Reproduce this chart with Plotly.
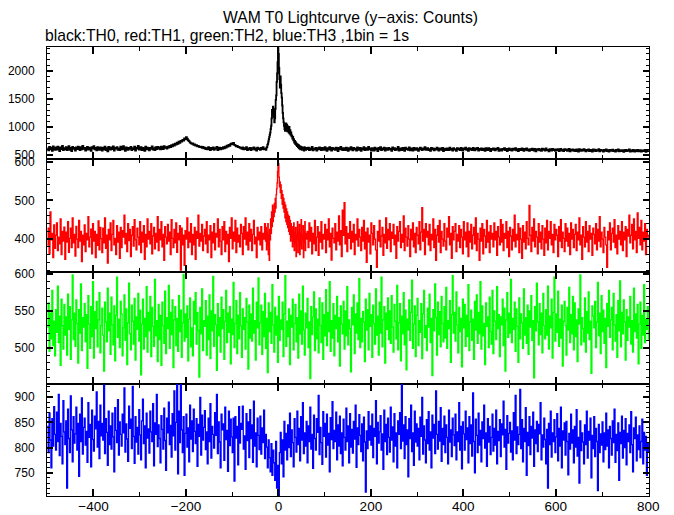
import numpy as np
import plotly.graph_objects as go
from plotly.subplots import make_subplots

# ---------------- data (counts per bin) ----------------
# coarse grid: 2 s steps; burst window (-28..60 s): 1 s steps
black_pre = [  # t = -500 .. -30 (step 2)
    618, 582, 645, 601, 630, 575, 652, 608, 590, 637,
    596, 648, 612, 570, 635, 605, 660, 588, 622, 599,
    640, 585, 618, 655, 592, 628, 568, 642, 610, 625,
    580, 633, 603, 650, 615, 586, 640, 598, 662, 607,
    625, 577, 612, 645, 595, 630, 604, 572, 638, 617,
    655, 598, 624, 583, 641, 609, 590, 636, 612, 578,
    630, 602, 649, 588, 620, 565, 644, 611, 597, 634,
    606, 652, 580, 627, 613, 640, 592, 618, 585, 646,
    598, 624, 656, 601, 575, 637, 615, 590, 628, 609,
    642, 585, 620, 603, 650, 579, 631, 612, 660, 594,
    617, 640, 588, 625, 606, 573, 647, 599, 632, 614,
    583, 628, 610, 652, 596, 621, 589, 638, 604, 645,
    612, 635, 598, 648, 620, 606, 655, 628, 640, 615,
    650, 632, 662, 641, 675, 655, 690, 668, 702, 685,
    720, 698, 735, 715, 752, 740, 770, 758, 795, 780,
    815, 790, 762, 748, 725, 712, 698, 705, 682, 690,
    668, 675, 652, 660, 645, 638, 650, 625, 642, 618,
    630, 605, 622, 598, 640, 612, 588, 628, 603, 635,
    592, 620, 608, 645, 585, 615, 630, 600, 625, 610,
    640, 618, 650, 632, 665, 648, 680, 662, 695, 705,
    690, 715, 678, 672, 655, 660, 638, 645, 625, 632,
    610, 635, 598, 622, 605, 640, 588, 618, 600, 628,
    585, 622, 608, 637, 595, 615, 580, 630, 603, 618,
    590, 625, 605, 640, 598, 612,
]
black_burst = [  # t = -28 .. 60 (step 1)
    610, 590, 630, 640, 680, 700, 740, 780, 820, 860,
    900, 960, 1020, 1150, 1300, 1250, 1360, 1280, 1180, 1080,
    1150, 1320, 1480, 1560, 1800, 1950, 2150, 2400, 2300, 2050,
    1850, 1700, 1900, 1750, 1600, 1520, 1380, 1250, 1150, 1080,
    1020, 960, 930, 1000, 1060, 980, 1040, 920, 1010, 960,
    900, 1000, 880, 940, 860, 900, 830, 850, 790, 820,
    760, 780, 720, 750, 700, 730, 680, 700, 660, 690,
    640, 680, 620, 660, 630, 600, 650, 610, 640, 590,
    630, 600, 620, 580, 640, 600, 615, 590, 625,
]
black_post = [  # t = 62 .. 800 (step 2)
    605, 630, 588, 618, 595, 642, 582, 612, 600, 625,
    578, 620, 598, 635, 606, 585, 628, 610, 592, 640,
    603, 575, 622, 596, 638, 612, 580, 625, 600, 618,
    590, 632, 605, 570, 628, 598, 645, 608, 585, 620,
    612, 586, 630, 602, 575, 622, 595, 640, 605, 582,
    626, 598, 612, 580, 635, 606, 590, 628, 572, 615,
    600, 638, 585, 620, 608, 592, 645, 598, 615, 578,
    622, 603, 580, 630, 595, 612, 570, 625, 602, 640,
    588, 615, 600, 632, 578, 620, 606, 590, 628, 598,
    610, 575, 635, 602, 620, 585, 612, 595, 642, 580,
    618, 600, 588, 625, 605, 572, 630, 598, 612, 590,
    635, 582, 615, 602, 580, 625, 608, 590, 620, 596,
    575, 612, 630, 598, 585, 618, 602, 640, 590, 608,
    620, 588, 605, 572, 628, 600, 615, 582, 610, 595,
    632, 598, 580, 615, 605, 590, 625, 570, 612, 600,
    588, 618, 602, 585, 630, 595, 610, 578, 620, 605,
    596, 575, 622, 600, 612, 585, 628, 598, 580, 615,
    605, 630, 590, 612, 572, 620, 595, 608, 585, 625,
    598, 582, 615, 600, 625, 578, 610, 592, 618, 588,
    612, 595, 575, 620, 600, 585, 622, 605, 570, 610,
    590, 618, 598, 582, 612, 600, 625, 575, 605, 592,
    580, 608, 595, 620, 585, 610, 568, 600, 615, 588,
    605, 578, 612, 592, 598, 620, 582, 605, 570, 610,
    595, 585, 615, 600, 575, 608, 590, 618, 582, 598,
    572, 605, 588, 612, 595, 580, 610, 565, 600, 590,
    608, 582, 598, 575, 612, 590, 602, 578, 615, 585,
    590, 565, 605, 595, 580, 610, 588, 600, 572, 598,
    585, 602, 570, 595, 610, 580, 592, 568, 605, 588,
    598, 575, 590, 608, 565, 595, 582, 600, 575, 592,
    570, 598, 585, 560, 602, 588, 575, 595, 580, 605,
    588, 565, 592, 578, 600, 570, 590, 582, 560, 598,
    575, 595, 568, 588, 580, 602, 565, 590, 578, 585,
    562, 590, 575, 598, 570, 585, 558, 592, 580, 572,
    595, 568, 582, 560, 590, 575, 598, 565, 585, 578,
    570, 588, 555, 580, 592, 568, 585, 572, 598, 562,
    580, 565, 590, 575, 558, 585, 570, 592, 565, 578,
    588, 560, 575, 582, 568, 590, 555, 578, 570, 585,
]

red_pre = [  # t = -500 .. -30 (step 2)
    385, 428, 362, 470, 398, 415, 352, 437, 376, 410,
    442, 370, 405, 388, 452, 360, 420, 395, 431, 348,
    418, 392, 445, 366, 402, 428, 378, 455, 390, 412,
    356, 433, 400, 378, 448, 395, 420, 342, 410, 385,
    437, 368, 415, 398, 458, 380, 405, 426, 362, 440,
    395, 420, 352, 412, 384, 447, 372, 430, 401, 365,
    428, 390, 455, 376, 410, 338, 425, 398, 442, 370,
    412, 448, 385, 402, 360, 435, 392, 418, 350, 430,
    378, 422, 405, 462, 388, 415, 368, 440, 396, 425,
    355, 410, 432, 382, 450, 398, 372, 428, 405, 385,
    445, 365, 418, 392, 435, 348, 412, 380, 452, 400,
    420, 388, 440, 362, 408, 430, 375, 415, 392, 458,
    370, 425, 398, 445, 380, 412, 345, 432, 405, 388,
    438, 395, 418, 360, 450, 402, 378, 425, 390, 442,
    366, 415, 398, 435, 320, 428, 385, 410, 332, 422,
    400, 455, 378, 418, 392, 440, 360, 412, 385, 430,
    348, 420, 402, 462, 382, 415, 395, 438, 370, 408,
    425, 388, 445, 365, 410, 398, 435, 352, 418, 390,
    440, 372, 415, 405, 452, 380, 425, 395, 360, 432,
    398, 445, 368, 420, 388, 412, 342, 430, 402, 455,
    375, 418, 395, 448, 365, 428, 392, 410, 380, 438,
    415, 360, 432, 400, 455, 385, 418, 372, 440, 395,
    425, 370, 412, 448, 388, 405, 352, 430, 398, 418,
    385, 432, 372, 415, 400, 440,
]
red_burst = [  # t = -28 .. 60 (step 1)
    395, 430, 372, 418, 385, 440, 360, 410, 345, 425,
    398, 452, 415, 470, 432, 488, 445, 475, 458, 492,
    470, 505, 480, 515, 530, 545, 575, 607, 595, 560,
    535, 548, 520, 540, 505, 525, 490, 515, 480, 505,
    470, 495, 455, 488, 445, 478, 438, 470, 430, 462,
    420, 458, 412, 448, 395, 440, 405, 432, 380, 425,
    395, 442, 370, 418, 388, 430, 355, 412, 400, 445,
    365, 420, 392, 438, 360, 415, 385, 450, 375, 410,
    398, 435, 352, 420, 390, 445, 370, 415, 400,
]
red_post = [  # t = 62 .. 800 (step 2)
    420, 378, 442, 395, 430, 362, 415, 388, 448, 370,
    405, 432, 358, 418, 392, 445, 375, 412, 400, 438,
    365, 425, 398, 452, 380, 415, 346, 428, 402, 390,
    440, 372, 418, 395, 460, 385, 422, 355, 475, 410,
    494, 388, 432, 368, 415, 402, 445, 375, 420, 392,
    438, 360, 412, 398, 452, 382, 425, 405, 370, 430,
    395, 448, 375, 418, 340, 428, 392, 410, 362, 442,
    415, 385, 435, 400, 372, 327, 420, 395, 448, 380,
    408, 430, 358, 412, 390, 455, 376, 425, 398, 440,
    368, 418, 402, 438, 385, 410, 350, 432, 395, 420,
    445, 378, 412, 392, 460, 370, 428, 405, 382, 435,
    400, 355, 425, 398, 442, 380, 415, 365, 430, 410,
    388, 445, 372, 418, 481, 395, 425, 360, 440, 405,
    420, 385, 438, 370, 412, 398, 452, 378, 425, 345,
    410, 435, 392, 448, 365, 420, 400, 382, 440, 395,
    372, 428, 405, 458, 385, 415, 350, 432, 398, 420,
    440, 368, 412, 395, 435, 378, 425, 405, 362, 445,
    398, 418, 380, 442, 355, 420, 392, 438, 375, 410,
    430, 388, 455, 370, 415, 400, 345, 428, 395, 440,
    362, 425, 408, 378, 448, 392, 418, 365, 435, 400,
    415, 380, 442, 398, 420, 358, 432, 405, 385, 450,
    392, 438, 370, 415, 402, 445, 378, 420, 355, 430,
    408, 372, 425, 395, 462, 380, 412, 398, 440, 365,
    428, 400, 350, 435, 392, 418, 375, 445, 402, 385,
    487, 410, 368, 430, 395, 452, 380, 420, 405, 362,
    440, 392, 418, 375, 435, 400, 358, 428, 390, 448,
    372, 420, 402, 445, 385, 412, 365, 438, 398, 425,
    410, 355, 432, 395, 450, 378, 418, 402, 368, 440,
    395, 428, 382, 415, 360, 442, 400, 425, 378, 412,
    438, 370, 418, 398, 455, 385, 410, 348, 432, 405,
    380, 445, 392, 420, 368, 435, 400, 415, 358, 428,
    412, 388, 440, 372, 425, 395, 458, 380, 418, 400,
    365, 430, 405, 385, 327, 420, 398, 442, 372, 415,
    428, 392, 450, 378, 410, 362, 435, 400, 420, 385,
    445, 370, 418, 398, 432, 355, 425, 408, 462, 390,
    410, 438, 375, 452, 398, 420, 365, 468, 402, 430,
    385, 448, 372, 418, 395, 440, 360, 425, 405, 412,
]

green = [  # t = -500 .. 800 (step 2)
    528, 561, 495, 547, 512, 578, 503, 536, 489, 552,
    521, 584, 507, 543, 476, 566, 530, 498, 559, 517,
    542, 490, 573, 525, 556, 484, 538, 599, 511, 547,
    502, 565, 533, 479, 552, 520, 587, 496, 541, 528,
    560, 508, 545, 472, 571, 532, 499, 556, 515, 590,
    486, 549, 526, 563, 501, 538, 575, 493, 530, 554,
    517, 468, 562, 535, 508, 581, 523, 547, 491, 569,
    531, 504, 557, 482, 544, 596, 514, 539, 500, 563,
    546, 489, 527, 572, 510, 553, 477, 534, 588, 519,
    497, 558, 536, 505, 567, 483, 542, 525, 574, 509,
    551, 463, 532, 566, 498, 540, 515, 583, 494, 548,
    523, 570, 488, 555, 529, 502, 593, 516, 537, 481,
    559, 511, 544, 476, 562, 530, 506, 577, 492, 541,
    526, 585, 499, 548, 518, 565, 473, 538, 556, 503,
    540, 495, 571, 522, 551, 487, 534, 600, 509, 546,
    514, 557, 482, 539, 568, 501, 527, 489, 563, 532,
    575, 505, 548, 524, 460, 555, 519, 580, 496, 537,
    529, 564, 490, 543, 511, 572, 485, 550, 523, 597,
    502, 545, 531, 469, 560, 516, 541, 494, 569, 526,
    552, 484, 536, 578, 507, 547, 521, 556, 478, 539,
    518, 589, 500, 533, 564, 492, 544, 512, 575, 530,
    487, 553, 525, 541, 498, 567, 535, 471, 558, 513,
    546, 509, 581, 520, 537, 483, 562, 527, 595, 504,
    534, 558, 491, 549, 515, 574, 499, 540, 466, 561,
    522, 548, 506, 586, 531, 494, 555, 517, 543, 480,
    570, 510, 538, 525, 562, 488, 546, 598, 502, 536,
    515, 553, 477, 544, 528, 566, 497, 533, 559, 508,
    541, 486, 573, 519, 550, 505, 584, 524, 490, 547,
    527, 567, 500, 535, 458, 556, 518, 542, 576, 496,
    553, 512, 539, 493, 568, 530, 507, 561, 484, 545,
    516, 579, 503, 548, 522, 590, 495, 537, 513, 560,
    489, 544, 526, 570, 508, 541, 475, 557, 532, 519,
    563, 498, 550, 516, 583, 504, 538, 526, 467, 555,
    531, 572, 492, 546, 520, 561, 511, 594, 500, 540,
    508, 549, 535, 481, 566, 524, 552, 497, 574, 529,
    545, 487, 558, 533, 505, 580, 517, 543, 490, 562,
    520, 596, 501, 538, 556, 479, 547, 525, 568, 511,
    550, 506, 571, 528, 494, 559, 536, 512, 585, 497,
    534, 560, 482, 543, 519, 575, 504, 551, 470, 539,
    524, 565, 510, 548, 592, 499, 532, 557, 488, 544,
    567, 503, 537, 521, 560, 485, 546, 578, 514, 530,
    496, 554, 528, 573, 507, 540, 462, 552, 523, 587,
    541, 490, 562, 518, 549, 501, 570, 533, 508, 556,
    513, 582, 499, 537, 526, 564, 480, 545, 598, 520,
    548, 509, 576, 531, 493, 555, 522, 540, 474, 566,
    527, 559, 502, 544, 515, 586, 496, 535, 551, 510,
    539, 484, 563, 524, 572, 506, 548, 519, 590, 498,
    557, 516, 533, 477, 561, 529, 542, 500, 569, 522,
    505, 578, 492, 550, 536, 511, 583, 526, 545, 488,
    542, 531, 566, 503, 554, 468, 538, 575, 514, 547,
    520, 593, 507, 540, 525, 562, 495, 553, 529, 480,
    568, 512, 546, 534, 499, 580, 517, 541, 506, 558,
    491, 550, 528, 571, 510, 537, 459, 556, 523, 588,
    535, 504, 560, 518, 547, 493, 574, 530, 512, 552,
    517, 584, 498, 543, 527, 566, 486, 548, 596, 509,
    546, 521, 577, 502, 539, 513, 558, 475, 536, 563,
    530, 490, 555, 524, 582, 507, 545, 519, 570, 497,
    561, 515, 538, 481, 553, 532, 599, 504, 541, 526,
    508, 568, 494, 549, 520, 576, 511, 536, 465, 557,
    543, 527, 563, 500, 535, 589, 516, 547, 492, 571,
    522, 551, 506, 540, 473, 560, 529, 578, 514, 538,
    555, 497, 574, 531, 509, 545, 487, 564, 523, 591,
    501, 548, 519, 565, 535, 483, 552, 510, 542, 528,
    570, 505, 537, 494, 581, 522, 546, 513, 559, 478,
    532, 562, 499, 544, 517, 586, 507, 539, 525, 556,
    511,
]

blue = [  # t = -500 .. 800 (step 2)
    842, 790, 868, 815, 760, 857, 803, 881, 826, 795,
    870, 812, 905, 784, 848, 822, 768, 893, 831, 806,
    853, 720, 876, 818, 790, 902, 835, 772, 861, 809,
    827, 880, 795, 848, 743, 866, 812, 898, 787, 840,
    858, 805, 832, 771, 889, 820, 846, 762, 874, 816,
    793, 862, 837, 910, 801, 852, 778, 884, 823, 848,
    815, 924, 788, 857, 830, 765, 872, 806, 843, 797,
    868, 821, 752, 879, 834, 810, 895, 785, 851, 826,
    803, 866, 829, 918, 791, 847, 817, 773, 882, 838,
    856, 798, 921, 822, 769, 861, 811, 840, 787, 875,
    825, 776, 853, 896, 808, 843, 760, 868, 819, 837,
    789, 872, 831, 812, 887, 764, 849, 826, 905, 802,
    845, 818, 770, 863, 836, 797, 878, 814, 755, 858,
    829, 890, 806, 844, 781, 867, 823, 912, 795, 850,
    925, 748, 872, 810, 925, 835, 790, 861, 745, 828,
    866, 801, 839, 772, 884, 817, 853, 792, 876, 832,
    808, 857, 763, 846, 822, 899, 785, 864, 815, 840,
    873, 796, 831, 768, 858, 812, 887, 779, 842, 826,
    799, 869, 824, 905, 788, 851, 811, 760, 866, 835,
    847, 775, 880, 816, 834, 753, 872, 804, 856, 821,
    790, 858, 734, 861, 819, 842, 766, 881, 809, 848,
    836, 882, 797, 823, 757, 867, 814, 851, 780, 875,
    818, 845, 771, 892, 803, 829, 762, 858, 824, 796,
    862, 787, 839, 810, 874, 778, 826, 801, 760, 815,
    780, 752, 808, 745, 795, 770, 735, 812, 720, 765,
    705, 790, 830, 768, 815, 742, 852, 795, 828, 776,
    845, 800, 868, 782, 835, 810, 762, 857, 820, 791,
    872, 806, 838, 774, 861, 815, 889, 788, 829, 803,
    852, 770, 843, 812, 880, 797, 826, 759, 864, 818,
    795, 857, 830, 903, 786, 840, 810, 767, 871, 822,
    848, 781, 866, 805, 828, 752, 859, 816, 891, 798,
    834, 812, 870, 776, 845, 803, 862, 788, 829, 764,
    856, 820, 795, 878, 812, 843, 770, 867, 801, 836,
    789, 852, 817, 884, 761, 839, 806, 865, 824, 792,
    847, 774, 860, 811, 712, 833, 798, 871, 815, 843,
    805, 866, 780, 838, 822, 893, 768, 850, 809, 831,
    863, 795, 827, 757, 874, 812, 846, 786, 858, 820,
    791, 880, 815, 841, 772, 867, 803, 829, 760, 853,
    826, 869, 798, 925, 813, 845, 778, 861, 806, 835,
    742, 857, 818, 884, 792, 829, 765, 872, 811, 847,
    803, 838, 776, 860, 822, 899, 787, 843, 815, 770,
    855, 808, 871, 795, 831, 760, 864, 819, 846, 788,
    912, 826, 797, 852, 813, 879, 773, 838, 806, 862,
    790, 845, 820, 768, 874, 811, 835, 782, 858, 825,
    804, 866, 776, 831, 812, 889, 795, 842, 758, 851,
    827, 795, 872, 816, 839, 770, 861, 808, 845, 783,
    908, 812, 750, 856, 824, 790, 868, 805, 834, 772,
    851, 818, 884, 799, 829, 763, 857, 811, 842, 786,
    820, 866, 793, 838, 805, 874, 768, 832, 814, 855,
    782, 847, 825, 892, 801, 836, 757, 863, 809, 828,
    850, 791, 833, 776, 869, 815, 903, 788, 841, 806,
    826, 915, 798, 855, 772, 838, 812, 879, 745, 830,
    804, 861, 786, 842, 819, 870, 763, 835, 808, 852,
    792, 846, 827, 889, 776, 825, 801, 858, 816, 768,
    836, 720, 848, 806, 872, 781, 829, 812, 855, 790,
    821, 867, 774, 838, 803, 880, 760, 833, 815, 849,
    785, 852, 812, 746, 828, 797, 866, 809, 835, 770,
    842, 801, 875, 783, 820, 730, 853, 794, 829, 811,
    768, 845, 806, 872, 779, 832, 815, 858, 740, 824,
    798, 861, 782, 838, 812, 715, 846, 790, 827, 805,
    851, 772, 829, 796, 868, 803, 835, 760, 842, 818,
    785, 853, 810, 876, 771, 826, 794, 849, 735, 830,
    808, 862, 779, 834, 800, 857, 766, 828, 812, 845,
    790, 871, 806, 752, 839, 818, 860, 774, 825, 796,
    843, 780, 812, 856, 768, 830, 795, 822, 745, 808,
    790,
]

# time grids (seconds from T0)
T_START, COARSE, FINE_LO = -500, 2, -28


def time_axis(pre, burst, post):
    t_pre = FINE_LO - COARSE * np.arange(len(pre), 0, -1)
    t_burst = FINE_LO + np.arange(len(burst))
    t_post = t_burst[-1] + COARSE * np.arange(1, len(post) + 1)
    return np.concatenate([t_pre, t_burst, t_post])


t_black = time_axis(black_pre, black_burst, black_post)
y_black = np.array(black_pre + black_burst + black_post)
t_red = time_axis(red_pre, red_burst, red_post)
y_red = np.array(red_pre + red_burst + red_post)
t_full = T_START + COARSE * np.arange(len(green))

title_main = "WAM T0 Lightcurve (y\u2212axis: Counts)"
title_sub = "black:TH0, red:TH1, green:TH2, blue:TH3 ,1bin = 1s"

series = [
    (t_black, y_black, "#000000", [424, 2421], 500, 100, 1.8),
    (t_red, y_red, "#ff0000", [316.3, 606.3], 100, 20, 1.3),
    (t_full, np.array(green), "#00ff00", [450.9, 603.8], 50, 10, 1.3),
    (t_full, np.array(blue), "#0000ff", [704.3, 926.2], 50, 10, 1.3),
]

# ---------------- figure ----------------
# page body has an 8 px default margin, so the figure is 8 px smaller
W, H = 666, 507
ML, MR, MT, MB = 39, 25, 39, 19
PH = H - MT - MB
fig = make_subplots(rows=4, cols=1, shared_xaxes=True, vertical_spacing=0)

FONT = "Liberation Sans, Arial, Helvetica, sans-serif"
for i, (tx, ty, col, yr, dt, mdt, lw) in enumerate(series, start=1):
    fig.add_trace(go.Scatter(x=tx, y=ty, mode="lines", line=dict(color=col, width=lw, shape="hv"),
                             showlegend=False, hoverinfo="skip"), row=i, col=1)
    fig.update_yaxes(range=yr, dtick=dt, tick0=0, ticks="inside", ticklen=6, tickwidth=1.5,
                     tickcolor="black", mirror="allticks", showline=True, linecolor="black",
                     linewidth=1, showgrid=False, zeroline=False, ticklabelstandoff=9,
                     tickfont=dict(family=FONT, size=12, color="black"),
                     minor=dict(dtick=mdt, ticks="inside", ticklen=3, tickwidth=1, tickcolor="black",
                                showgrid=False),
                     row=i, col=1)
    fig.update_xaxes(range=[-500.5, 801.5], dtick=200, tick0=0, ticks="inside", ticklen=7,
                     tickwidth=1.5, tickcolor="black", mirror="allticks", showline=True,
                     linecolor="black", linewidth=1, showgrid=False, zeroline=False,
                     tickfont=dict(family=FONT, size=13.5, color="black"),
                     minor=dict(dtick=100, ticks="inside", ticklen=4, tickwidth=1, tickcolor="black",
                                showgrid=False),
                     row=i, col=1)

fig.update_xaxes(showticklabels=True, ticklabelstandoff=-2, row=4, col=1)

fig.update_layout(
    width=W, height=H,
    margin=dict(l=ML, r=MR, t=MT, b=MB, autoexpand=False),
    paper_bgcolor="white", plot_bgcolor="white",
    showlegend=False,
    font=dict(family=FONT, size=15, color="black"),
    annotations=[
        dict(text=title_main, xref="paper", yref="paper", x=(350 - 47) / 602, y=1 + (MT - 9) / PH,
             xanchor="center", yanchor="middle", showarrow=False, font=dict(size=15.7, family=FONT)),
        dict(text=title_sub, xref="paper", yref="paper", x=(43 - 47) / 602, y=1 + (MT - 27) / PH,
             xanchor="left", yanchor="middle", showarrow=False, font=dict(size=15.7, family=FONT)),
    ],
)

fig.write_html("out.html")
